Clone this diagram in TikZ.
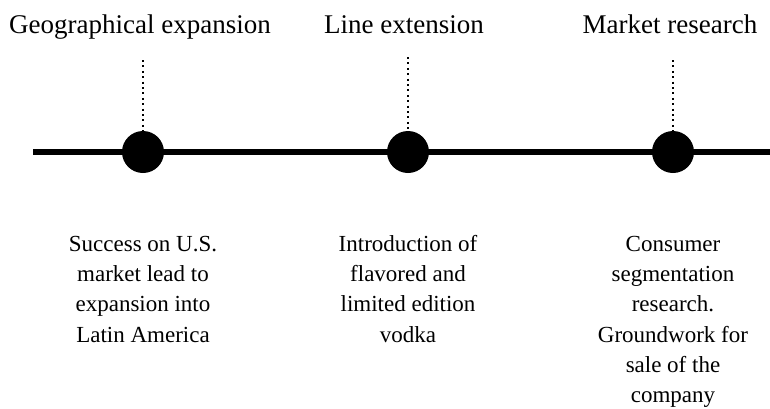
\documentclass[tikz,border=0pt]{standalone}
\usepackage{fontspec}
\setmainfont{Liberation Serif}
\begin{document}
\begin{tikzpicture}[x=1pt,y=-1pt,
  dot/.style={circle,fill=black,minimum size=42pt,inner sep=0pt},
  titletext/.style={anchor=base,inner sep=0pt,font=\fontsize{27}{32}\selectfont},
  bodytext/.style={anchor=north,inner sep=0pt,align=center,font=\fontsize{23}{30.2}\selectfont},
  dotline/.style={line width=2.4pt,dash pattern=on 2pt off 3.4pt},
  axis/.style={line width=6pt}]
\useasboundingbox (0,0) rectangle (770,408);
\coordinate (L) at (33,152);
\coordinate (R) at (770,152);
\draw[axis] (L) -- (R);
\node[dot] (c1) at (143,152) {};
\node[dot] (c2) at (408,152) {};
\node[dot] (c3) at (673,152) {};
\coordinate (t1) at (143,60);
\coordinate (t2) at (408,57);
\coordinate (t3) at (673,60);
\draw[dotline] (t1) -- (c1.north);
\draw[dotline] (t2) -- (c2.north);
\draw[dotline] (t3) -- (c3.north);
\node[titletext] (h1) at (140,33) {Geographical expansion};
\node[titletext] (h2) at (404,33) {Line extension};
\node[titletext] (h3) at (670,33) {Market research};
\node[bodytext] (b1) at (143,236) {Success on U.S.\\market lead to\\expansion into\\Latin America};
\node[bodytext] (b2) at (408,235) {Introduction of\\flavored and\\limited edition\\vodka};
\node[bodytext] (b3) at (673,236) {Consumer\\segmentation\\research.\\Groundwork for\\sale of the\\company};
\end{tikzpicture}
\end{document}
